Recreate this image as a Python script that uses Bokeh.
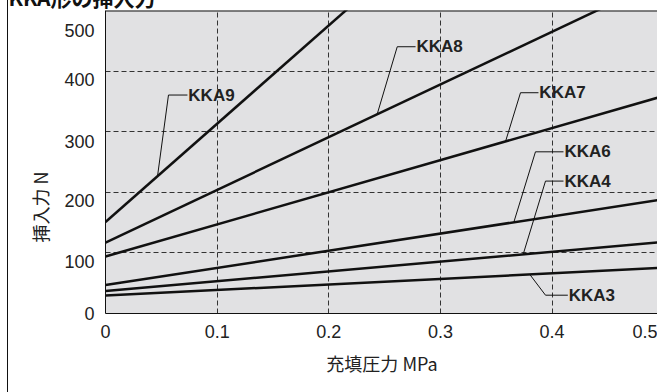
import numpy as np
from bokeh.plotting import figure
from bokeh.models import FixedTicker, Label, Range1d, Title, Span
from bokeh.embed import file_html
from bokeh.resources import INLINE

# ---- data ----
pressure = [0.0, 0.5]                # 充填圧力 MPa
kka3 = [29.5, 75.5]                  # 挿入力 N
kka4 = [37.0, 118.0]
kka6 = [47.0, 188.5]
kka7 = [94.0, 359.0]
kka8 = [117.0, 552.0]
kka9 = [151.0, 962.0]

series_names = ["KKA3", "KKA4", "KKA6", "KKA7", "KKA8", "KKA9"]
series_values = [kka3, kka4, kka6, kka7, kka8, kka9]

x_ticks = [0, 0.1, 0.2, 0.3, 0.4]
x_tick_labels = ["0", "0.1", "0.2", "0.3", "0.4"]
y_ticks = [0, 100, 200, 300, 400, 500]
y_tick_labels = ["0", "100", "200", "300", "400", "500"]
# in the reference the y labels sit a little below their grid lines
y_label_pos = [0, 86.4, 185.8, 284.5, 386.9, 466.5]

# leader lines: anchor x on the curve, elbow point, label point
leader_anchor_x = [0.380, 0.3741, 0.3657, 0.3583, 0.2433, 0.0466]
leader_elbow = [(0.3941, 30.2), (0.3941, 218.5), (0.3851, 266.8),
                (0.3717, 364.3), (0.2613, 440.2), (0.0564, 360.5)]
leader_end_x = [0.4141, 0.4102, 0.4102, 0.3878, 0.2777, 0.0734]

X_END = 0.4953          # right edge of the (cropped) chart
LAST_TICK_POS = 0.4837  # where the cropped "0.5" label sits

TOP = 30                # height of the title band above the frame
SHIFT = TOP - 10        # part of the title band pushed above the window

p = figure(width=650, height=392 + SHIFT, output_backend="svg",
           toolbar_location=None,
           x_range=Range1d(0, X_END), y_range=Range1d(0, 500),
           min_border_left=97, min_border_right=0, min_border_top=TOP,
           min_border_bottom=79)
p.styles = {"margin-top": f"-{SHIFT}px", "margin-left": "7px",
            "border-left": "1px solid #111"}
p.background_fill_color = "#e1e1e3"
p.border_fill_color = "white"
p.outline_line_color = None

# cropped title at the very top
p.add_layout(Title(text="KKA形の挿入力", align="left", offset=-97, standoff=-3,
                   text_font="Noto Sans CJK JP", text_font_style="bold",
                   text_font_size="21px", text_color="#111"), "above")

for ax in (p.xaxis[0], p.yaxis[0]):
    ax.axis_line_color = "#111"
    ax.axis_line_width = 1
    ax.major_tick_out = 0
    ax.major_tick_in = 0
    ax.minor_tick_out = 0
    ax.minor_tick_in = 0
    ax.major_label_text_font = "Liberation Sans"
    ax.major_label_text_font_size = "18px"
    ax.major_label_text_color = "#222"
    ax.major_label_standoff = 11

p.xaxis.ticker = FixedTicker(ticks=x_ticks + [LAST_TICK_POS])
x_over = {t: s for t, s in zip(x_ticks, x_tick_labels)}
x_over[LAST_TICK_POS] = "0.5"
p.xaxis.major_label_overrides = x_over
p.yaxis.ticker = FixedTicker(ticks=y_label_pos)
p.yaxis.major_label_overrides = {t: s for t, s in zip(y_label_pos, y_tick_labels)}

for g in (p.xgrid[0], p.ygrid[0]):
    g.grid_line_color = "#333"
    g.grid_line_dash = "5 3"
    g.grid_line_width = 1
p.xgrid.ticker = FixedTicker(ticks=x_ticks[1:])
p.ygrid.ticker = FixedTicker(ticks=y_ticks[1:-1])

# top border of the chart frame
p.add_layout(Span(location=500, dimension="width", line_color="#111",
                  line_width=2))

for name, vals in zip(series_names, series_values):
    p.line(pressure, vals, line_color="#111", line_width=2.5)

for name, vals, ax_, el, ex in zip(series_names, series_values,
                                   leader_anchor_x, leader_elbow, leader_end_x):
    ay = float(np.interp(ax_, pressure, vals))
    p.line([ax_, el[0], ex], [ay, el[1], el[1]], line_color="#111", line_width=1)
    p.add_layout(Label(x=ex + 0.0008, y=el[1], text=name, text_align="left",
                       text_baseline="middle", text_font="Liberation Sans",
                       text_font_style="bold", text_font_size="17px",
                       text_color="#222"))

# axis titles
p.add_layout(Title(text="充填圧力 MPa", align="center", offset=2, standoff=14,
                   text_font="Noto Sans CJK JP", text_font_style="normal",
                   text_font_size="18px", text_color="#222"), "below")
p.add_layout(Title(text="挿入力 N", align="left", offset=71, standoff=17,
                   text_font="Noto Sans CJK JP", text_font_style="normal",
                   text_font_size="18px", text_color="#222"), "left")

open("out.html", "w").write(file_html(p, INLINE))
